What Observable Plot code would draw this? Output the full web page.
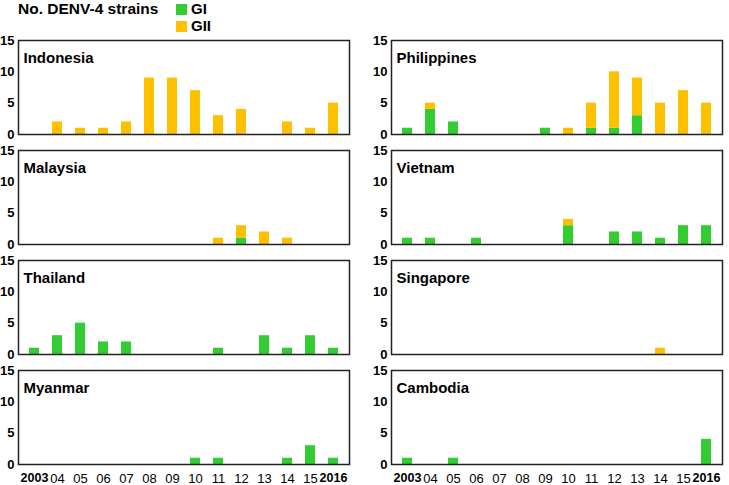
<!DOCTYPE html>
<html>
<head>
<meta charset="utf-8">
<script src="https://cdn.jsdelivr.net/npm/d3@7"></script>
<script src="https://cdn.jsdelivr.net/npm/@observablehq/plot@0.6"></script>
<style>
  body { margin: 0; background: white; font-family: "Liberation Sans", Arial, sans-serif; }
  #head { position: relative; height: 34px; }
  #title { position: absolute; left: 18px; top: 0px; font-weight: bold; font-size: 15.5px; }
  .key { position: absolute; left: 176px; font-weight: bold; font-size: 15px; line-height: 15px; }
  .key span { display: inline-block; width: 11px; height: 11px; margin-right: 4px; vertical-align: -1px; }
</style>
</head>
<body>
<div id="head">
  <div id="title">No. DENV-4 strains</div>
  <div class="key" style="top:1px"><span style="background:#33cc33"></span>GI</div>
  <div class="key" style="top:18px"><span style="background:#ffc000"></span>GII</div>
</div>
<div id="chart"></div>
<script>
const years = [2003, 2004, 2005, 2006, 2007, 2008, 2009, 2010, 2011, 2012, 2013, 2014, 2015, 2016];
const yearLabels = ["2003", "04", "05", "06", "07", "08", "09", "10", "11", "12", "13", "14", "15", "2016"];
const genotypes = ["GI", "GII"];

// countries in reading order: left column then right column, row by row
const countries = ["Indonesia", "Philippines", "Malaysia", "Vietnam", "Thailand", "Singapore", "Myanmar", "Cambodia"];

const gI = {
  Indonesia:   [0, 0, 0, 0, 0, 0, 0, 0, 0, 0, 0, 0, 0, 0],
  Philippines: [1, 4, 2, 0, 0, 0, 1, 0, 1, 1, 3, 0, 0, 0],
  Malaysia:    [0, 0, 0, 0, 0, 0, 0, 0, 0, 1, 0, 0, 0, 0],
  Vietnam:     [1, 1, 0, 1, 0, 0, 0, 3, 0, 2, 2, 1, 3, 3],
  Thailand:    [1, 3, 5, 2, 2, 0, 0, 0, 1, 0, 3, 1, 3, 1],
  Singapore:   [0, 0, 0, 0, 0, 0, 0, 0, 0, 0, 0, 0, 0, 0],
  Myanmar:     [0, 0, 0, 0, 0, 0, 0, 1, 1, 0, 0, 1, 3, 1],
  Cambodia:    [1, 0, 1, 0, 0, 0, 0, 0, 0, 0, 0, 0, 0, 4]
};
const gII = {
  Indonesia:   [0, 2, 1, 1, 2, 9, 9, 7, 3, 4, 0, 2, 1, 5],
  Philippines: [0, 1, 0, 0, 0, 0, 0, 1, 4, 9, 6, 5, 7, 5],
  Malaysia:    [0, 0, 0, 0, 0, 0, 0, 0, 1, 2, 2, 1, 0, 0],
  Vietnam:     [0, 0, 0, 0, 0, 0, 0, 1, 0, 0, 0, 0, 0, 0],
  Thailand:    [0, 0, 0, 0, 0, 0, 0, 0, 0, 0, 0, 0, 0, 0],
  Singapore:   [0, 0, 0, 0, 0, 0, 0, 0, 0, 0, 0, 1, 0, 0],
  Myanmar:     [0, 0, 0, 0, 0, 0, 0, 0, 0, 0, 0, 0, 0, 0],
  Cambodia:    [0, 0, 0, 0, 0, 0, 0, 0, 0, 0, 0, 0, 0, 0]
};

const panels = countries.map((c, i) => ({country: c, col: i % 2, row: Math.floor(i / 2)}));

const rows = [];
for (const g of genotypes) {
  const src = g === "GI" ? gI : gII;
  panels.forEach(p => {
    years.forEach((yr, j) => {
      if (src[p.country][j] > 0) rows.push({...p, year: yr, genotype: g, n: src[p.country][j]});
    });
  });
}

const lab = d3.scaleOrdinal(years, yearLabels);

let chart = Plot.plot({
  width: 729,
  height: 451,
  marginTop: 6,
  marginLeft: 18,
  marginRight: 6,
  marginBottom: 20,
  style: {fontFamily: "Liberation Sans, Arial, sans-serif", fontSize: "13px", color: "black"},
  fx: {axis: null, domain: [0, 1], padding: 0.112},
  fy: {axis: null, domain: [0, 1, 2, 3], padding: 0.145},
  x: {type: "band", domain: years, paddingInner: 0.58, paddingOuter: 0.29},
  y: {domain: [0, 15]},
  color: {domain: genotypes, range: ["#33cc33", "#ffc000"]},
  marks: [
    Plot.barY(rows, {fx: "col", fy: "row", x: "year", y: "n", fill: "genotype"}),
    Plot.frame({stroke: "#222", strokeWidth: 1.5}),
    Plot.text(panels, {fx: "col", fy: "row", text: "country", frameAnchor: "top-left",
      dx: 5, dy: 12, fontSize: 15, fontWeight: "bold"}),
    Plot.axisY([0, 5, 10, 15], {facetAnchor: null, tickSize: 0, tickPadding: 4,
      fontWeight: "bold", fontSize: 13, label: null}),
    Plot.axisX(years.filter(y => y !== 2003 && y !== 2016), {tickSize: 0, tickPadding: 9,
      tickFormat: d => lab(d), fontSize: 13, label: null}),
    Plot.axisX([2003, 2016], {tickSize: 0, tickPadding: 9,
      tickFormat: d => lab(d), fontSize: 12.5, fontWeight: "bold", label: null})
  ]
});
d3.select("#chart").append(() => chart);
</script>
</body>
</html>
